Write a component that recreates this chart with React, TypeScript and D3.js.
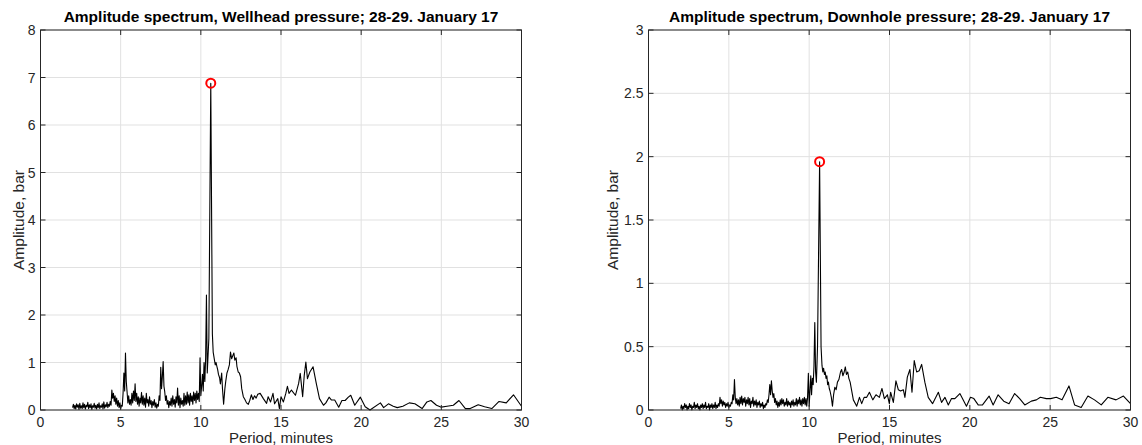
import React from 'react';
import * as d3 from 'd3';

const xTicks = [0, 5, 10, 15, 20, 25, 30];
const wellheadYTicks = [0, 1, 2, 3, 4, 5, 6, 7, 8];
const downholeYTicks = [0, 0.5, 1, 1.5, 2, 2.5, 3];
const wellheadTitle = 'Amplitude spectrum, Wellhead pressure; 28-29. January 17';
const downholeTitle = 'Amplitude spectrum, Downhole pressure; 28-29. January 17';
const xLabel = 'Period, minutes';
const yLabel = 'Amplitude, bar';

// [period (min), amplitude (bar)]
const wellhead: [number, number][] = [
  [2.00, 0.05], [2.05, 0.12], [2.10, 0.03], [2.15, 0.10], [2.20, 0.02], [2.25, 0.13], [2.30, 0.06], [2.35, 0.11],
  [2.40, 0.01], [2.45, 0.14], [2.50, 0.04], [2.55, 0.09], [2.60, 0.03], [2.65, 0.15], [2.70, 0.05], [2.75, 0.12],
  [2.80, 0.02], [2.85, 0.10], [2.90, 0.07], [2.95, 0.16], [3.00, 0.03], [3.05, 0.11], [3.10, 0.05], [3.15, 0.13],
  [3.20, 0.01], [3.25, 0.09], [3.30, 0.06], [3.35, 0.14], [3.40, 0.04], [3.45, 0.10], [3.50, 0.02], [3.55, 0.12],
  [3.60, 0.05], [3.65, 0.15], [3.70, 0.03], [3.75, 0.09], [3.80, 0.06], [3.85, 0.13], [3.90, 0.02], [3.95, 0.17],
  [4.00, 0.04], [4.05, 0.11], [4.10, 0.07], [4.15, 0.16], [4.20, 0.05], [4.25, 0.12], [4.30, 0.08], [4.35, 0.18],
  [4.40, 0.10], [4.45, 0.42], [4.50, 0.25], [4.55, 0.35], [4.60, 0.18], [4.65, 0.30], [4.70, 0.12], [4.75, 0.25],
  [4.80, 0.08], [4.85, 0.20], [4.90, 0.05], [4.95, 0.15], [5.00, 0.03], [5.05, 0.10], [5.10, 0.08], [5.15, 0.35],
  [5.20, 0.78], [5.25, 0.40], [5.30, 1.20], [5.35, 0.60], [5.40, 0.38], [5.45, 0.15], [5.50, 0.30], [5.55, 0.12],
  [5.60, 0.22], [5.65, 0.10], [5.70, 0.35], [5.75, 0.15], [5.80, 0.40], [5.85, 0.20], [5.90, 0.55], [5.95, 0.18],
  [6.00, 0.35], [6.05, 0.12], [6.10, 0.28], [6.15, 0.08], [6.20, 0.25], [6.25, 0.15], [6.30, 0.37], [6.35, 0.12],
  [6.40, 0.30], [6.45, 0.10], [6.50, 0.25], [6.55, 0.06], [6.60, 0.35], [6.65, 0.15], [6.70, 0.22], [6.75, 0.08],
  [6.80, 0.28], [6.85, 0.12], [6.90, 0.20], [6.95, 0.05], [7.00, 0.18], [7.05, 0.10], [7.10, 0.22], [7.15, 0.06],
  [7.20, 0.15], [7.25, 0.04], [7.30, 0.12], [7.35, 0.08], [7.40, 0.30], [7.45, 0.20], [7.50, 0.90], [7.55, 0.45],
  [7.60, 0.70], [7.65, 1.02], [7.70, 0.50], [7.75, 0.38], [7.80, 0.20], [7.85, 0.30], [7.90, 0.12], [7.95, 0.20],
  [8.00, 0.05], [8.05, 0.18], [8.10, 0.10], [8.15, 0.25], [8.20, 0.08], [8.25, 0.30], [8.30, 0.12], [8.35, 0.22],
  [8.40, 0.06], [8.45, 0.28], [8.50, 0.15], [8.55, 0.46], [8.60, 0.10], [8.65, 0.30], [8.70, 0.05], [8.75, 0.25],
  [8.80, 0.12], [8.85, 0.20], [8.90, 0.08], [8.95, 0.35], [9.00, 0.10], [9.05, 0.30], [9.10, 0.12], [9.15, 0.38],
  [9.20, 0.15], [9.25, 0.32], [9.30, 0.10], [9.35, 0.35], [9.40, 0.18], [9.45, 0.30], [9.50, 0.12], [9.55, 0.38],
  [9.60, 0.20], [9.65, 0.35], [9.70, 0.15], [9.75, 0.40], [9.80, 0.22], [9.85, 0.35], [9.90, 0.18], [9.95, 1.10],
  [10.00, 0.30], [10.05, 0.50], [10.10, 0.75], [10.15, 0.40], [10.20, 1.00], [10.25, 0.60], [10.30, 1.10], [10.35, 2.42],
  [10.40, 0.78], [10.50, 1.50], [10.62, 6.88], [10.72, 1.60], [10.77, 1.22], [10.85, 1.05], [10.90, 0.95], [10.95, 1.00],
  [11.00, 0.92], [11.05, 0.85], [11.10, 0.75], [11.17, 0.68], [11.22, 0.55], [11.30, 0.78], [11.35, 0.45], [11.42, 0.12],
  [11.50, 0.45], [11.56, 0.62], [11.63, 0.78], [11.70, 0.85], [11.78, 0.95], [11.85, 1.22], [11.92, 1.08], [12.00, 1.15],
  [12.06, 1.20], [12.12, 1.05], [12.20, 1.10], [12.25, 0.92], [12.33, 0.80], [12.40, 0.78], [12.48, 0.70], [12.55, 0.45],
  [12.65, 0.28], [12.75, 0.22], [12.85, 0.15], [12.96, 0.12], [13.05, 0.20], [13.15, 0.32], [13.25, 0.22], [13.35, 0.30],
  [13.45, 0.25], [13.55, 0.33], [13.70, 0.35], [13.90, 0.24], [14.10, 0.14], [14.20, 0.28], [14.35, 0.17], [14.50, 0.35],
  [14.60, 0.13], [14.80, 0.24], [14.90, 0.03], [15.00, 0.28], [15.15, 0.17], [15.30, 0.35], [15.40, 0.50], [15.50, 0.35],
  [15.65, 0.42], [15.90, 0.31], [16.10, 0.56], [16.20, 0.77], [16.35, 0.28], [16.45, 0.73], [16.55, 1.01], [16.65, 0.66],
  [16.80, 0.80], [17.00, 0.91], [17.20, 0.56], [17.40, 0.24], [17.65, 0.10], [17.80, 0.15], [18.00, 0.27], [18.15, 0.21],
  [18.35, 0.21], [18.60, 0.06], [18.80, 0.20], [19.00, 0.20], [19.20, 0.27], [19.35, 0.31], [19.60, 0.10], [19.95, 0.27],
  [20.25, 0.07], [20.55, 0.00], [21.20, 0.15], [21.40, 0.05], [21.70, 0.13], [22.00, 0.08], [22.25, 0.05], [22.60, 0.08],
  [23.00, 0.15], [23.35, 0.13], [23.80, 0.03], [24.10, 0.17], [24.35, 0.20], [24.70, 0.10], [25.00, 0.06], [25.35, 0.08],
  [25.75, 0.10], [26.10, 0.20], [26.50, 0.03], [26.80, 0.03], [27.30, 0.11], [27.70, 0.07], [28.15, 0.03], [28.60, 0.18],
  [29.05, 0.15], [29.50, 0.32], [30.00, 0.08],
];

const downhole: [number, number][] = [
  [2.00, 0.01], [2.05, 0.04], [2.10, 0.00], [2.15, 0.03], [2.20, 0.01], [2.25, 0.05], [2.30, 0.02], [2.35, 0.04],
  [2.40, 0.00], [2.45, 0.03], [2.50, 0.01], [2.55, 0.05], [2.60, 0.02], [2.65, 0.04], [2.70, 0.00], [2.75, 0.03],
  [2.80, 0.02], [2.85, 0.06], [2.90, 0.01], [2.95, 0.04], [3.00, 0.02], [3.05, 0.05], [3.10, 0.01], [3.15, 0.03],
  [3.20, 0.00], [3.25, 0.04], [3.30, 0.02], [3.35, 0.05], [3.40, 0.01], [3.45, 0.04], [3.50, 0.02], [3.55, 0.06],
  [3.60, 0.01], [3.65, 0.03], [3.70, 0.02], [3.75, 0.05], [3.80, 0.00], [3.85, 0.04], [3.90, 0.02], [3.95, 0.05],
  [4.00, 0.01], [4.05, 0.04], [4.10, 0.02], [4.15, 0.06], [4.20, 0.01], [4.25, 0.04], [4.30, 0.02], [4.35, 0.05],
  [4.40, 0.03], [4.45, 0.10], [4.50, 0.05], [4.55, 0.08], [4.60, 0.03], [4.65, 0.07], [4.70, 0.04], [4.75, 0.06],
  [4.80, 0.02], [4.85, 0.05], [4.90, 0.03], [4.95, 0.06], [5.00, 0.02], [5.05, 0.04], [5.10, 0.03], [5.15, 0.06],
  [5.20, 0.05], [5.25, 0.12], [5.30, 0.08], [5.35, 0.24], [5.40, 0.10], [5.45, 0.05], [5.50, 0.09], [5.55, 0.04],
  [5.60, 0.08], [5.65, 0.03], [5.70, 0.10], [5.75, 0.05], [5.80, 0.11], [5.85, 0.04], [5.90, 0.09], [5.95, 0.06],
  [6.00, 0.10], [6.05, 0.03], [6.10, 0.08], [6.15, 0.05], [6.20, 0.10], [6.25, 0.04], [6.30, 0.09], [6.35, 0.02],
  [6.40, 0.07], [6.45, 0.05], [6.50, 0.10], [6.55, 0.03], [6.60, 0.07], [6.65, 0.04], [6.70, 0.08], [6.75, 0.02],
  [6.80, 0.06], [6.85, 0.04], [6.90, 0.07], [6.95, 0.02], [7.00, 0.05], [7.05, 0.03], [7.10, 0.06], [7.15, 0.01],
  [7.20, 0.04], [7.25, 0.02], [7.30, 0.05], [7.35, 0.04], [7.40, 0.08], [7.45, 0.06], [7.50, 0.12], [7.55, 0.20],
  [7.60, 0.12], [7.65, 0.23], [7.70, 0.15], [7.75, 0.10], [7.80, 0.13], [7.85, 0.06], [7.90, 0.09], [7.95, 0.04],
  [8.00, 0.07], [8.05, 0.02], [8.10, 0.06], [8.15, 0.03], [8.20, 0.08], [8.25, 0.04], [8.30, 0.09], [8.35, 0.05],
  [8.40, 0.08], [8.45, 0.03], [8.50, 0.06], [8.55, 0.04], [8.60, 0.09], [8.65, 0.03], [8.70, 0.07], [8.75, 0.04],
  [8.80, 0.06], [8.85, 0.02], [8.90, 0.07], [8.95, 0.04], [9.00, 0.08], [9.05, 0.03], [9.10, 0.06], [9.15, 0.04],
  [9.20, 0.09], [9.25, 0.03], [9.30, 0.08], [9.35, 0.05], [9.40, 0.10], [9.45, 0.04], [9.50, 0.08], [9.55, 0.03],
  [9.60, 0.09], [9.65, 0.05], [9.70, 0.10], [9.75, 0.04], [9.80, 0.09], [9.85, 0.03], [9.90, 0.10], [9.95, 0.29],
  [10.00, 0.03], [10.05, 0.15], [10.10, 0.27], [10.15, 0.12], [10.20, 0.25], [10.25, 0.20], [10.30, 0.35], [10.35, 0.69],
  [10.40, 0.30], [10.45, 0.22], [10.52, 0.50], [10.65, 1.96], [10.74, 0.50], [10.80, 0.35], [10.85, 0.30], [10.90, 0.33],
  [10.95, 0.28], [11.00, 0.30], [11.05, 0.25], [11.10, 0.27], [11.15, 0.20], [11.20, 0.22], [11.25, 0.17], [11.30, 0.15],
  [11.38, 0.10], [11.45, 0.03], [11.52, 0.12], [11.60, 0.18], [11.68, 0.16], [11.76, 0.22], [11.85, 0.24], [11.95, 0.30],
  [12.02, 0.32], [12.10, 0.27], [12.18, 0.30], [12.25, 0.34], [12.32, 0.28], [12.40, 0.30], [12.47, 0.25], [12.55, 0.22],
  [12.75, 0.08], [12.96, 0.03], [13.13, 0.10], [13.27, 0.05], [13.42, 0.10], [13.58, 0.10], [13.75, 0.14], [13.96, 0.08],
  [14.16, 0.12], [14.37, 0.10], [14.53, 0.17], [14.68, 0.09], [14.87, 0.12], [14.99, 0.05], [15.07, 0.14], [15.24, 0.06],
  [15.40, 0.23], [15.55, 0.16], [15.69, 0.15], [15.86, 0.16], [15.96, 0.10], [16.11, 0.26], [16.27, 0.32], [16.40, 0.14],
  [16.54, 0.39], [16.69, 0.30], [16.85, 0.31], [17.00, 0.36], [17.20, 0.22], [17.41, 0.10], [17.68, 0.05], [18.04, 0.14],
  [18.24, 0.06], [18.45, 0.10], [18.66, 0.04], [18.86, 0.09], [19.07, 0.09], [19.38, 0.13], [19.79, 0.03], [20.04, 0.10],
  [20.25, 0.09], [20.52, 0.04], [20.79, 0.04], [21.20, 0.11], [21.45, 0.04], [21.76, 0.12], [22.11, 0.07], [22.44, 0.05],
  [22.79, 0.13], [23.10, 0.09], [23.42, 0.04], [23.83, 0.07], [24.14, 0.08], [24.39, 0.10], [24.76, 0.09], [25.03, 0.09],
  [25.38, 0.10], [25.74, 0.08], [26.17, 0.19], [26.52, 0.04], [26.93, 0.02], [27.35, 0.11], [27.76, 0.08], [28.18, 0.04],
  [28.59, 0.10], [29.10, 0.08], [29.56, 0.11], [30.00, 0.05],
];

const FONT = '"Liberation Sans", Arial, Helvetica, sans-serif';
const AX = '#262626';
const GRID = '#e1e1e1';

type PanelProps = {
  left: number; right: number; top: number; bottom: number;
  data: [number, number][]; yTicks: number[]; title: string; yLabelX: number;
};

function Panel({ left, right, top, bottom, data, yTicks, title, yLabelX }: PanelProps) {
  const x = d3.scaleLinear().domain([xTicks[0], xTicks[xTicks.length - 1]]).range([left, right]);
  const y = d3.scaleLinear().domain([yTicks[0], yTicks[yTicks.length - 1]]).range([bottom, top]);
  const line = d3.line<[number, number]>().x(d => x(d[0])).y(d => y(d[1]));
  const peak = data[d3.maxIndex(data, d => d[1])];
  const tl = 5;
  const cx = (left + right) / 2;
  const cy = (top + bottom) / 2;
  return (
    <g>
      {xTicks.map(t => (
        <line key={'gx' + t} x1={x(t)} x2={x(t)} y1={top} y2={bottom} stroke={GRID} strokeWidth={1} />
      ))}
      {yTicks.map(t => (
        <line key={'gy' + t} x1={left} x2={right} y1={y(t)} y2={y(t)} stroke={GRID} strokeWidth={1} />
      ))}
      <path d={line(data) || ''} fill="none" stroke="#000" strokeWidth={1.1} strokeLinejoin="round" />
      <rect x={left} y={top} width={right - left} height={bottom - top} fill="none" stroke={AX} strokeWidth={1} />
      {xTicks.map(t => (
        <g key={'tx' + t}>
          <line x1={x(t)} x2={x(t)} y1={bottom} y2={bottom - tl} stroke={AX} />
          <line x1={x(t)} x2={x(t)} y1={top} y2={top + tl} stroke={AX} />
          <text x={x(t)} y={bottom + 16.5} textAnchor="middle" fontSize={14} fill={AX} fontFamily={FONT}>{String(t)}</text>
        </g>
      ))}
      {yTicks.map(t => (
        <g key={'ty' + t}>
          <line x1={left} x2={left + tl} y1={y(t)} y2={y(t)} stroke={AX} />
          <line x1={right} x2={right - tl} y1={y(t)} y2={y(t)} stroke={AX} />
          <text x={left - 5} y={y(t) + 5} textAnchor="end" fontSize={14} fill={AX} fontFamily={FONT}>{String(t)}</text>
        </g>
      ))}
      <circle cx={x(peak[0])} cy={y(peak[1])} r={4.5} fill="none" stroke="#ff0000" strokeWidth={2} />
      <text x={cx} y={top - 8} textAnchor="middle" fontSize={15.5} fontWeight="bold" fill="#000" fontFamily={FONT}>{title}</text>
      <text x={cx} y={bottom + 33} textAnchor="middle" fontSize={15} fill={AX} fontFamily={FONT}>{xLabel}</text>
      <text transform={`translate(${yLabelX},${cy}) rotate(-90)`} textAnchor="middle" fontSize={15.5} fill={AX} fontFamily={FONT}>{yLabel}</text>
    </g>
  );
}

export default function App() {
  return (
    <svg width={1142} height={445} style={{ position: 'absolute', left: 0, top: 0, background: '#fff' }}>
      <rect x={0} y={0} width={1142} height={445} fill="#fff" />
      <Panel left={40.5} right={521.5} top={30} bottom={410} data={wellhead} yTicks={wellheadYTicks} title={wellheadTitle} yLabelX={24} />
      <Panel left={648.5} right={1130.5} top={30} bottom={410} data={downhole} yTicks={downholeYTicks} title={downholeTitle} yLabelX={618} />
    </svg>
  );
}
